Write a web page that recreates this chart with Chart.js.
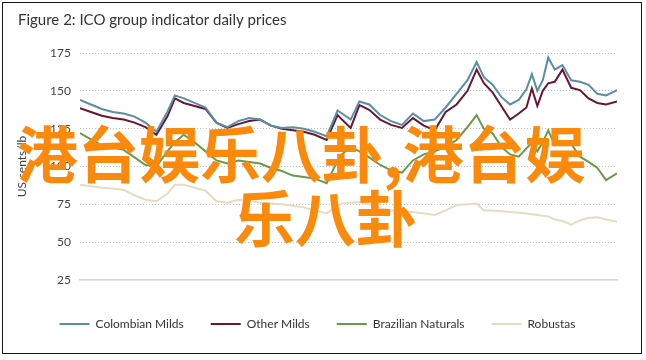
<!DOCTYPE html>
<html><head><meta charset="utf-8">
<script src="https://cdn.jsdelivr.net/npm/chart.js@4.4.1/dist/chart.umd.min.js"></script>
<style>
html,body{margin:0;padding:0;background:#fff;}
#wrap{position:relative;width:646px;height:360px;overflow:hidden;background:#fff;}
#frame{position:absolute;left:2px;top:2px;width:638px;height:350px;border:1.5px solid #1a1a1a;pointer-events:none;}
canvas{position:absolute;left:0;top:0;}
.wm{position:absolute;color:#fb8a0c;font-family:"Noto Sans CJK SC";font-weight:700;font-size:61px;line-height:1;white-space:nowrap;}
</style></head><body>
<div id="wrap"><canvas id="c" width="646" height="360"></canvas><div id="frame"></div>
<div class="wm" style="left:17px;top:121px">港台娱乐八卦,港台娱</div>
<div class="wm" style="left:234px;top:185px">乐八卦</div>
</div>
<script>
const months = [0,0.5,1,1.5,2,2.5,3,3.5,4,4.35,4.75,5.25,5.75,6.25,6.75,7.25,7.75,8.25,8.75,9.25,9.75,10.25,10.75,11.3,11.8,12,12.4,12.8,13.25,13.75,14.25,14.75,15.25,15.75,16.25,16.75,17.25,17.75,18.17,18.5,18.9,19.3,19.7,20.1,20.45,20.7,20.95,21.2,21.45,21.75,22.1,22.5,22.9,23.3,23.7,24.1,24.6];
const colombianMilds = [144,141,138,136,135,133,129,123,136,147,145,142,139,129,126,130,132,131,127,125.5,126,125,123,120,137,135,131,143,141,134,130,127.5,135,130,131,139,148,157,169,159,154,146,141,144,151,161,150,157,172,164,167,157,156,154,148,147,150.5];
const otherMilds = [138.5,136,133.5,132,131,129,126,121,133,145,142,140,138,129,125.5,128,130,131,127,125,124,123,121,117.5,134,131,125.5,140.5,137.5,131,127.5,125.5,132,127,124,136,141,150,164,155,149,140,131,135,139,151.5,140,150,155,156,164,152,150.5,145,142,141,143];
const brazilianNaturals = [122,118,114,112.5,111,106,101,100,110,116,121,116,110,104,102,104,103,102,99,97,94,93,92,89,104,108,113,110,106,101,97.5,96,104,108,110,113,117.5,126,134,125,122,113,108,106.5,112,115.5,110,116,124,114,116,115,106.5,103,99,91,95.5];
const robustas = [88,87,86,85.5,84.5,81,78,77,82,88,88,86,84,77,76,78,77.5,76,75.5,75,74,73,71,69,74,75.5,76,76.5,75,72.5,71,71,70,69,68,71,74.5,75,75.5,71,71,70.5,70,69.5,69,68.5,68,67.5,67,65,64,61.5,64.5,66,66.5,65,63.5];
const tickMonths = [0,3,6,9,12,15,18,21,24];
const tickLabels = ["Jun-18","Sep-18","Dec-18","Mar-19","Jun-19","Sep-19","Dec-19","Mar-20","Jun-20"];
const seriesNames = ["Colombian Milds","Other Milds","Brazilian Naturals","Robustas"];
const seriesColors = ["#5a8ea2","#6b1633","#6a9a4a","#e6dcc0"];

const allSeries = [colombianMilds, otherMilds, brazilianNaturals, robustas];
const font = {family: 'Lato', size: 12};
const chart = new Chart(document.getElementById('c'), {
  type: 'line',
  data: {
    datasets: allSeries.map((arr, i) => ({
      label: seriesNames[i],
      data: months.map((m, j) => ({x: m, y: arr[j]})),
      borderColor: seriesColors[i],
      backgroundColor: seriesColors[i],
      borderWidth: 2,
      pointRadius: 0,
      tension: 0
    }))
  },
  options: {
    responsive: false,
    animation: false,
    layout: {padding: {left: 18, right: 29, top: 0, bottom: 20}},
    plugins: {
      title: {display: true, text: 'Figure 2: ICO group indicator daily prices', align: 'start', color: '#333', font: {family: 'Lato', size: 15, weight: 'normal'}, padding: {top: 11, bottom: 24}},
      legend: {position: 'bottom', labels: {boxWidth: 30, boxHeight: 2, color: '#333', font: font, padding: 27,
        generateLabels: (ch) => Chart.defaults.plugins.legend.labels.generateLabels(ch).map(l => Object.assign(l, {lineWidth: 0}))}},
      tooltip: {enabled: false}
    },
    scales: {
      x: {type: 'linear', min: 0, max: 24.6,
        afterBuildTicks: s => { s.ticks = tickMonths.map(v => ({value: v})); },
        afterFit: s => { s.height = 11; },
        ticks: {callback: v => tickLabels[tickMonths.indexOf(v)], color: '#444', font: font, padding: 12, maxRotation: 0, autoSkip: false},
        grid: {display: false, drawTicks: false},
        border: {display: true, color: '#d6d6d6', width: 1.5}},
      y: {min: 25, max: 175,
        ticks: {stepSize: 25, color: '#444', font: font, padding: 9},
        grid: {color: c => c.tick && c.tick.value === 25 ? 'rgba(0,0,0,0)' : '#c2c2c2', drawTicks: false, lineWidth: 1},
        border: {display: false, dash: [1, 2]},
        title: {display: true, text: 'US cents/lb', color: '#444', font: font, padding: {top: -3, bottom: 0}},
        afterFit: s => { s.width = 62; }}
    }
  }
});
</script>
</body></html>
